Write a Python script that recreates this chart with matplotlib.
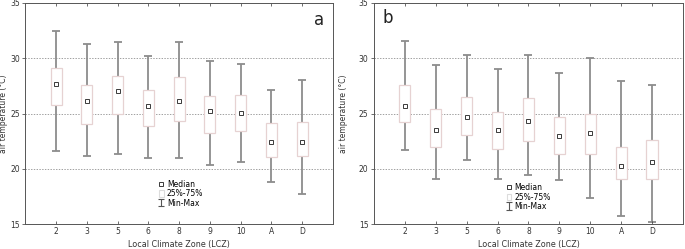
import matplotlib.pyplot as plt
import numpy as np

zonas = ['2', '3', '5', '6', '8', '9', '10', 'A', 'D']

# panel a
max_a = [32.45, 31.3, 31.5, 30.2, 31.45, 29.75, 29.5, 27.15, 28.05]
q3_a = [29.1, 27.55, 28.4, 27.1, 28.3, 26.6, 26.7, 24.1, 24.2]
med_a = [27.7, 26.1, 27.0, 25.7, 26.15, 25.25, 25.05, 22.4, 22.4]
q1_a = [25.75, 24.05, 25.0, 23.9, 24.3, 23.25, 23.45, 21.1, 21.15]
min_a = [21.65, 21.2, 21.3, 20.95, 20.95, 20.35, 20.6, 18.8, 17.7]

# panel b
max_b = [31.6, 29.35, 30.3, 29.0, 30.3, 28.7, 30.0, 27.95, 27.55]
q3_b = [27.55, 25.45, 26.5, 25.15, 26.4, 24.7, 24.95, 21.95, 22.6]
med_b = [25.7, 23.5, 24.7, 23.5, 24.3, 23.0, 23.2, 20.3, 20.65]
q1_b = [24.25, 21.95, 23.1, 21.75, 22.5, 21.35, 21.35, 19.05, 19.05]
min_b = [21.7, 19.1, 20.8, 19.1, 19.45, 19.0, 17.4, 15.7, 15.15]

col_bigote = '#8c8c8c'
col_caja = '#e6d2d2'
col_med = '#3a3a3a'


def dibujar(ax, mx, q3, med, q1, mn, letra, lx, ly, legx, legy, ylab_x):
    x = np.arange(1, len(zonas) + 1)
    for y in [20, 25, 30]:
        ax.axhline(y, color='#7a7a7a', linestyle=(0, (2, 2)), linewidth=0.5, zorder=0)
    ax.vlines(x, mn, mx, color=col_bigote, linewidth=1.3, zorder=1)
    ax.hlines(mx, x - 0.13, x + 0.13, color=col_bigote, linewidth=1.3, zorder=1)
    ax.hlines(mn, x - 0.13, x + 0.13, color=col_bigote, linewidth=1.3, zorder=1)
    ax.bar(x, np.array(q3) - np.array(q1), bottom=q1, width=0.36,
           color='white', edgecolor=col_caja, linewidth=0.9, zorder=2)
    ax.plot(x, med, linestyle='none', marker='s', markersize=3.2,
            markerfacecolor='white', markeredgecolor=col_med, markeredgewidth=0.7, zorder=3)

    ax.set_xlim(0, len(zonas) + 1)
    ax.set_ylim(15, 35)
    ax.set_xticks(x)
    ax.set_xticklabels(zonas)
    ax.set_yticks([15, 20, 25, 30, 35])
    ax.tick_params(labelsize=5.5, length=2, width=0.5, colors='#333333', pad=2)
    ax.tick_params(axis='x', top=True, direction='in')
    for s in ax.spines.values():
        s.set_color('#555555')
        s.set_linewidth(0.7)
    ax.set_xlabel('Local Climate Zone (LCZ)', fontsize=5.8, color='#333333', labelpad=3)
    ax.set_ylabel('air temperature (°C)', fontsize=5.5, color='#333333')
    ax.yaxis.set_label_coords(ylab_x, 0.5)
    ax.text(lx, ly, letra, transform=ax.transAxes, fontsize=12, color='#222222',
            ha='center', va='center')

    h1 = plt.Line2D([], [], linestyle='none', marker='s', markersize=3.2,
                    markerfacecolor='white', markeredgecolor=col_med, markeredgewidth=0.7)
    h2 = plt.Rectangle((0, 0), 1, 1, facecolor='white', edgecolor='#dcdcdc', linewidth=0.8)
    h3 = ax.errorbar([np.nan], [np.nan], yerr=[[1], [1]], fmt='none',
                     ecolor='#555555', elinewidth=0.8, capsize=2, capthick=0.8)
    ax.legend([h1, h2, h3], ['Median', '25%-75%', 'Min-Max'], loc='upper left',
              bbox_to_anchor=(legx, legy), frameon=False, fontsize=5.5,
              handlelength=0.6, handleheight=1.0, handletextpad=0.4,
              labelspacing=0.05, borderpad=0, borderaxespad=0)


fig = plt.figure(figsize=(6.85, 2.49), dpi=100)
ax1 = fig.add_axes([0.037, 0.100, 0.449, 0.888])
ax2 = fig.add_axes([0.546, 0.100, 0.451, 0.888])

dibujar(ax1, max_a, q3_a, med_a, q1_a, min_a, 'a', 0.955, 0.925, 0.435, 0.2, -0.058)
dibujar(ax2, max_b, q3_b, med_b, q1_b, min_b, 'b', 0.045, 0.93, 0.43, 0.185, -0.085)

fig.savefig('out.png', dpi=100)
